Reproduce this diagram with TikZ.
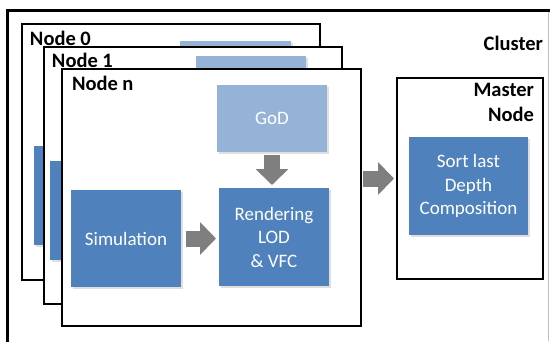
\documentclass[tikz,border=0pt]{standalone}
\usepackage{fontspec}
\setmainfont{Carlito}
\usetikzlibrary{positioning,arrows.meta,shadows}
\definecolor{boxblue}{RGB}{79,129,189}
\definecolor{godblue}{RGB}{149,179,215}
\definecolor{arrgray}{RGB}{127,127,127}

\begin{document}
\begin{tikzpicture}[x=1pt, y=-1pt,
    every node/.style={font=\fontsize{19}{23.5}\selectfont, inner sep=0pt, outer sep=0pt},
    frame/.style={draw, line width=2pt, fill=white, anchor=north west},
    tag/.style={font=\fontsize{20.5}{25}\selectfont\bfseries},
    box/.style={fill=boxblue, text=white, align=center, anchor=north west,
        drop shadow={shadow xshift=1.5pt, shadow yshift=-1.5pt, opacity=0.25}},
    godbox/.style={box, fill=godblue},
    blk/.style={line width=16pt, arrgray, -{Triangle[length=16pt, width=32pt]}}]
    \useasboundingbox (0,0) rectangle (550,341);
    % cluster frame
    \node[draw, line width=3pt, fill=white, anchor=north west, minimum width=570pt, minimum height=360pt] (cluster) at (7,10) {};
    \draw[black!25, line width=1pt] (548,12) -- (548,341);
    \node[tag, anchor=base east] (lblcluster) at (543,50) {Cluster};
    % node 0
    \node[frame, minimum width=298pt, minimum height=256pt] (node0) at (22,24) {};
    \node[tag, anchor=base west] (lbl0) at (30,45) {Node 0};
    \node[godbox, minimum width=111pt, minimum height=67pt] (god0) at (180,41) {};
    \node[box, minimum width=110pt, minimum height=99pt] (sim0) at (34,146) {};
    % node 1
    \node[frame, minimum width=298pt, minimum height=257pt] (node1) at (44,47) {};
    \node[tag, anchor=base west] (lbl1) at (52,67) {Node 1};
    \node[godbox, minimum width=110pt, minimum height=67pt] (god1) at (196,56) {};
    \node[box, minimum width=110pt, minimum height=99pt] (sim1) at (50,161) {};
    % node n
    \node[frame, minimum width=299pt, minimum height=257pt] (noden) at (62,69) {};
    \node[tag, anchor=base west] (lbln) at (72,90) {Node n};
    \node[godbox, minimum width=110pt, minimum height=67pt] (god) at (217,85) {GoD};
    \node[box, minimum width=110pt, minimum height=97pt] (sim) at (71,190) {Simulation};
    \node[box, minimum width=110pt, minimum height=98pt] (ren) at (219,188) {Rendering\\LOD\\\& VFC};
    % master node
    \node[frame, minimum width=146pt, minimum height=201pt] (master) at (397,78) {};
    \node[tag, align=right, anchor=north east] (lblmaster) at (534,83) {Master\\Node};
    \node[box, minimum width=119pt, minimum height=98pt] (sort) at (409,137) {Sort last\\Depth\\Composition};
    % arrows
    \draw[blk, shorten <=3pt, shorten >=3pt] (god.south) -- (god.south |- ren.north);
    \draw[blk, shorten <=5pt, shorten >=3pt] (sim.east) -- (sim.east -| ren.west);
    \draw[blk, shorten <=2pt, shorten >=3pt] (noden.east |- master.west) -- (master.west);
\end{tikzpicture}
\end{document}
